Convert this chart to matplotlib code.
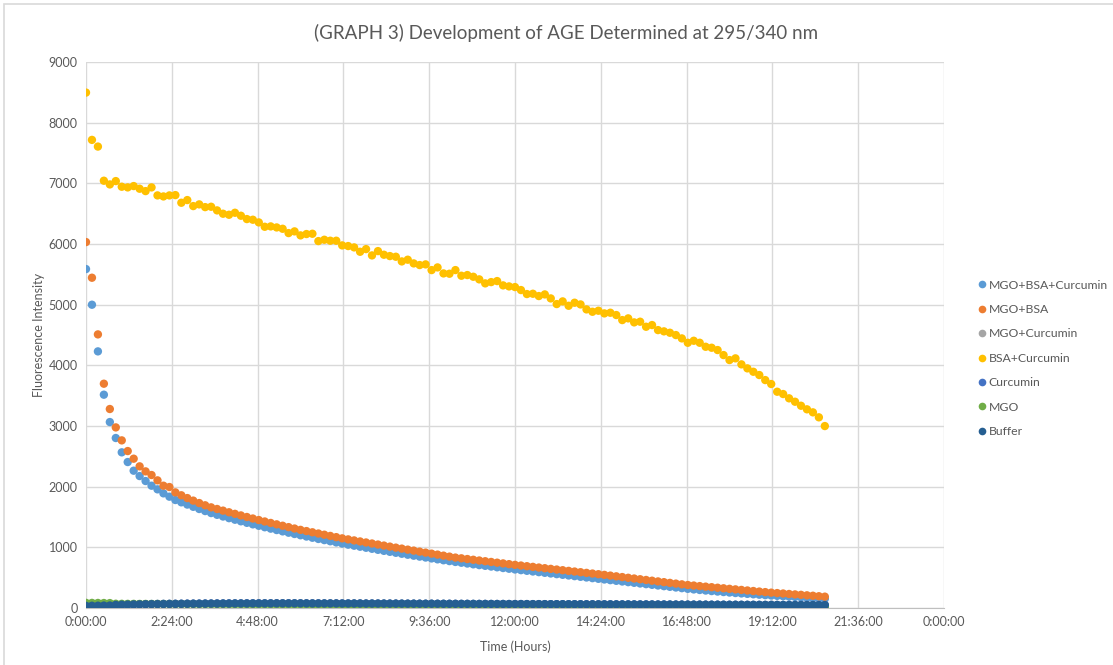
import matplotlib
matplotlib.use("Agg")
import matplotlib.pyplot as plt
from matplotlib.lines import Line2D
from matplotlib.patches import Rectangle
import numpy as np

plt.rcParams['font.family'] = ['Lato', 'DejaVu Sans']

# readings every 10 minutes, 0:00 .. 20:40
time_hours = np.arange(0, 1250, 10) / 60.0

mgo_bsa_curcumin = [
    5587, 4999, 4230, 3516, 3065, 2802, 2566, 2406, 2263, 2175,
    2093, 2016, 1956, 1890, 1835, 1780, 1742, 1705, 1668, 1632,
    1598, 1565, 1536, 1508, 1481, 1455, 1429, 1404, 1379, 1355,
    1331, 1308, 1285, 1263, 1241, 1220, 1199, 1178, 1158, 1138,
    1119, 1100, 1081, 1062, 1044, 1027, 1010, 993, 976, 959,
    942, 926, 910, 894, 878, 862, 847, 832, 817, 802,
    787, 773, 759, 746, 733, 720, 707, 695, 683, 671,
    659, 647, 635, 624, 613, 602, 591, 580, 569, 558,
    547, 536, 525, 514, 503, 492, 481, 470, 459, 448,
    437, 426, 415, 404, 393, 382, 371, 360, 349, 338,
    327, 316, 306, 297, 288, 279, 271, 263, 255, 247,
    240, 233, 226, 219, 212, 206, 200, 194, 188, 182,
    176, 170, 164, 158, 152]

mgo_bsa = [
    6032, 5444, 4510, 3697, 3280, 2977, 2763, 2587, 2461, 2335,
    2252, 2192, 2104, 2016, 1994, 1906, 1858, 1812, 1770, 1730,
    1693, 1659, 1632, 1605, 1578, 1552, 1526, 1500, 1475, 1450,
    1426, 1402, 1379, 1356, 1333, 1310, 1288, 1268, 1248, 1228,
    1208, 1188, 1168, 1148, 1131, 1114, 1097, 1080, 1063, 1046,
    1029, 1012, 995, 979, 962, 946, 929, 913, 896, 880,
    863, 847, 831, 819, 807, 795, 783, 771, 759, 747,
    735, 723, 711, 700, 689, 678, 667, 656, 645, 634,
    623, 612, 601, 590, 579, 568, 557, 546, 534, 522,
    510, 498, 486, 474, 462, 450, 438, 426, 414, 402,
    390, 379, 370, 361, 352, 343, 334, 325, 316, 307,
    298, 289, 280, 271, 262, 253, 246, 239, 231, 224,
    217, 209, 202, 194, 187]

mgo_curcumin = [
    40, 42, 43, 45, 46, 55, 57, 59, 61, 62,
    63, 64, 65, 66, 67, 68, 68, 69, 70, 70,
    71, 71, 72, 72, 72, 73, 73, 73, 73, 74,
    74, 74, 74, 74, 74, 74, 74, 73, 73, 73,
    73, 73, 72, 72, 72, 72, 71, 71, 71, 71,
    70, 70, 70, 69, 69, 69, 68, 68, 68, 67,
    67, 67, 66, 66, 66, 65, 65, 65, 64, 64,
    64, 63, 63, 63, 62, 62, 62, 61, 61, 61,
    60, 60, 60, 59, 59, 59, 58, 58, 58, 57,
    57, 57, 56, 56, 56, 55, 55, 55, 54, 54,
    54, 53, 53, 53, 52, 52, 52, 51, 51, 51,
    50, 50, 50, 49, 49, 49, 48, 48, 48, 47,
    47, 47, 46, 46, 46]

bsa_curcumin = [
    8496, 7716, 7606, 7043, 6982, 7037, 6944, 6933, 6955, 6911,
    6872, 6933, 6801, 6784, 6801, 6806, 6680, 6724, 6625, 6653,
    6608, 6614, 6554, 6499, 6482, 6515, 6466, 6411, 6400, 6356,
    6284, 6290, 6273, 6251, 6180, 6208, 6142, 6164, 6169, 6048,
    6070, 6054, 6054, 5977, 5966, 5944, 5872, 5916, 5812, 5883,
    5823, 5801, 5790, 5713, 5741, 5680, 5653, 5664, 5570, 5614,
    5515, 5510, 5570, 5477, 5488, 5460, 5417, 5351, 5372, 5389,
    5318, 5301, 5290, 5241, 5175, 5180, 5142, 5169, 5103, 5010,
    5054, 4982, 5032, 5004, 4922, 4883, 4900, 4856, 4867, 4829,
    4746, 4774, 4708, 4719, 4636, 4664, 4581, 4560, 4537, 4499,
    4444, 4372, 4405, 4372, 4306, 4290, 4252, 4169, 4087, 4115,
    4016, 3950, 3894, 3840, 3757, 3692, 3565, 3527, 3456, 3400,
    3334, 3275, 3225, 3143, 2999]

curcumin = [
    38, 40, 42, 43, 45, 54, 57, 59, 61, 63,
    64, 66, 67, 68, 69, 70, 71, 72, 72, 73,
    74, 74, 75, 75, 76, 76, 76, 77, 77, 77,
    77, 77, 77, 77, 77, 77, 76, 76, 76, 76,
    75, 75, 75, 75, 74, 74, 74, 73, 73, 73,
    72, 72, 72, 71, 71, 71, 70, 70, 70, 69,
    69, 69, 68, 68, 68, 67, 67, 67, 66, 66,
    66, 65, 65, 65, 64, 64, 64, 63, 63, 63,
    62, 62, 62, 61, 61, 61, 60, 60, 60, 59,
    59, 59, 58, 58, 58, 57, 57, 57, 56, 56,
    56, 55, 55, 55, 54, 54, 54, 53, 53, 53,
    52, 52, 52, 51, 51, 51, 50, 50, 50, 49,
    49, 49, 48, 48, 48]

mgo = [
    85, 84, 83, 82, 81, 70, 69, 68, 68, 67,
    67, 66, 66, 65, 65, 64, 64, 63, 63, 62,
    62, 61, 61, 60, 60, 59, 59, 58, 58, 57,
    57, 56, 56, 55, 55, 54, 54, 53, 53, 52,
    52, 51, 51, 50, 50, 49, 49, 48, 48, 47,
    47, 46, 46, 45, 45, 44, 44, 43, 43, 42,
    42, 41, 41, 40, 40, 39, 39, 38, 38, 37,
    37, 36, 36, 35, 35, 34, 34, 33, 33, 32,
    32, 31, 31, 30, 30, 29, 29, 28, 28, 27,
    27, 26, 26, 25, 25, 24, 24, 23, 23, 22,
    22, 21, 21, 20, 20, 19, 19, 18, 18, 17,
    17, 16, 16, 15, 15, 14, 14, 13, 13, 12,
    12, 11, 11, 10, 10]

buffer = [
    35, 37, 38, 40, 41, 52, 55, 57, 59, 60,
    62, 63, 64, 65, 66, 67, 68, 69, 70, 70,
    71, 72, 72, 73, 73, 74, 74, 74, 75, 75,
    75, 75, 76, 76, 76, 76, 76, 76, 75, 75,
    75, 75, 75, 74, 74, 74, 74, 73, 73, 73,
    73, 72, 72, 72, 71, 71, 71, 70, 70, 70,
    69, 69, 69, 68, 68, 68, 67, 67, 67, 66,
    66, 66, 65, 65, 65, 64, 64, 64, 63, 63,
    63, 62, 62, 62, 61, 61, 61, 60, 60, 60,
    59, 59, 59, 58, 58, 58, 57, 57, 57, 56,
    56, 56, 55, 55, 55, 54, 54, 54, 53, 53,
    53, 52, 52, 52, 51, 51, 51, 50, 50, 50,
    49, 49, 49, 48, 48]

series_names = ["MGO+BSA+Curcumin", "MGO+BSA", "MGO+Curcumin", "BSA+Curcumin",
                "Curcumin", "MGO", "Buffer"]
series_values = [mgo_bsa_curcumin, mgo_bsa, mgo_curcumin, bsa_curcumin,
                 curcumin, mgo, buffer]
colors = ["#5B9BD5", "#ED7D31", "#A5A5A5", "#FFC000", "#4472C4", "#70AD47", "#255E91"]

x_tick_labels = ["0:00:00", "2:24:00", "4:48:00", "7:12:00", "9:36:00", "12:00:00",
                 "14:24:00", "16:48:00", "19:12:00", "21:36:00", "0:00:00"]

text_col = "#595959"
grid_col = "#D9D9D9"

fig = plt.figure(figsize=(11.13, 6.65), dpi=100)
fig.patches.append(Rectangle((0.004, -0.01), 1.2, 1.004, transform=fig.transFigure,
                             fill=False, edgecolor=grid_col, linewidth=1.2))
ax = fig.add_axes([86 / 1113, 1 - 608 / 665, 858 / 1113, 546 / 665])

for vals, col in zip(series_values, colors):
    ax.scatter(time_hours, vals, s=36, color=col, edgecolors='none', zorder=3)

ax.set_xlim(0, 24)
ax.set_ylim(0, 9000)
ax.set_xticks(np.arange(0, 24.01, 2.4))
ax.set_xticklabels(x_tick_labels)
ax.set_yticks(range(0, 9001, 1000))
ax.grid(True, color=grid_col, linewidth=1)
ax.set_axisbelow(True)
for s in ["left", "right", "top"]:
    ax.spines[s].set_visible(False)
ax.spines["bottom"].set_color("#BFBFBF")
ax.tick_params(length=0, labelsize=9, colors=text_col, pad=6)

ax.set_xlabel("Time (Hours)", fontsize=9, color=text_col, labelpad=9)
ax.set_ylabel("Fluorescence Intensity", fontsize=9, color=text_col)
ax.yaxis.set_label_coords(-41 / 858, 0.5)
fig.text(566 / 1113, 1 - 33 / 665,
         "(GRAPH 3) Development of AGE Determined at 295/340 nm",
         ha="center", va="center", fontsize=13.5, color=text_col)

handles = [Line2D([], [], linestyle='none', marker='o', markersize=5.5,
                  markerfacecolor=c, markeredgecolor='none') for c in colors]
fig.legend(handles, series_names, loc="upper left", bbox_to_anchor=(0.874, 0.587),
           frameon=False, fontsize=8.8, labelcolor=text_col, handlelength=0.7,
           handletextpad=0.2, labelspacing=1.1, borderaxespad=0)

fig.savefig("out.png", dpi=100)
